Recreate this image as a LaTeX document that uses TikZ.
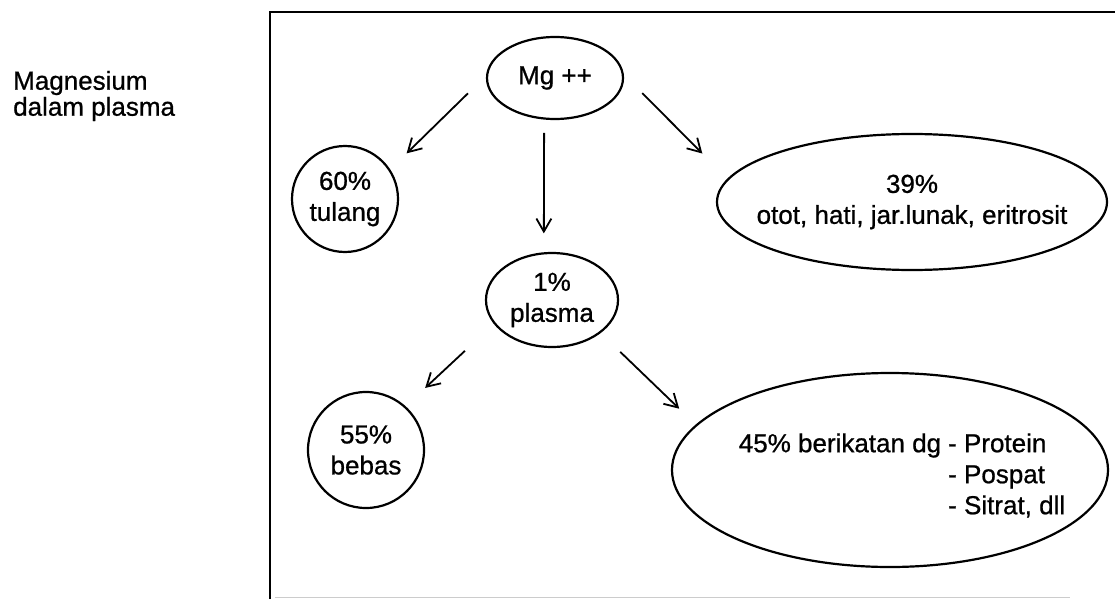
\documentclass[tikz,border=0pt]{standalone}
\usepackage{fontspec}
\setmainfont{Liberation Sans}[FakeBold=0.8]
\usetikzlibrary{arrows.meta,shapes.geometric}
\begin{document}
\begin{tikzpicture}[x=1pt,y=-1pt,
  oval/.style={ellipse, draw, line width=2.2pt, inner sep=0pt, outer sep=0pt},
  ring/.style={circle, draw, line width=2.2pt, inner sep=0pt, outer sep=0pt},
  txt/.style={font=\fontsize{26}{31}\selectfont, align=center, inner sep=0pt},
  arr/.style={line width=1.8pt, -{Straight Barb[length=13pt,width=15pt,line width=1.8pt]}}
]
\useasboundingbox (0,0) rectangle (1115,599);
% frame
\draw[line width=2.6pt] (270,599) -- (270,12) -- (1115,12);
\draw[black!20, line width=1pt] (275,597) -- (1070,597);
% title
\node[txt, align=left, font=\fontsize{26}{26}\selectfont, anchor=west] (title) at (13,96) {Magnesium\\dalam plasma};
% nodes
\node[oval, minimum width=136pt, minimum height=82pt, label={[txt]center:Mg ++}] (mg) at (555,78) {};
\node[ring, minimum size=106pt, label={[txt]center:{60\%\\tulang}}] (tulang) at (345,199) {};
\node[oval, minimum width=390pt, minimum height=136pt, label={[txt]center:{39\%\\otot, hati, jar.lunak, eritrosit}}] (otot) at (912,202) {};
\node[oval, minimum width=132pt, minimum height=94pt, label={[txt]center:{1\%\\plasma}}] (plasma) at (552,300) {};
\node[ring, minimum size=116pt, label={[txt]center:{55\%\\bebas}}] (bebas) at (366,450) {};
\node[oval, minimum width=436pt, minimum height=194pt] (ber) at (890,470) {};
\node[txt, anchor=center] (bertxt) at (902,477) {\begin{tabular}{@{}r@{}l@{}}45\% berikatan dg\kern7pt & - Protein\\ & - Pospat\\ & - Sitrat, dll\end{tabular}};
% arrows
\draw[arr, shorten <=27pt, shorten >=24pt] (mg.177) -- (tulang.33);
\draw[arr, shorten <=14.5pt, shorten >=20pt] (mg.255) -- (plasma.100);
\draw[arr, shorten <=28pt, shorten >=36.5pt] (mg.4) -- (otot.173);
\draw[arr, shorten <=40.6pt, shorten >=27.8pt] (plasma.202) -- (bebas.48);
\draw[arr, shorten <=28.2pt, shorten >=24pt] (plasma.326) -- (ber.167);
\end{tikzpicture}
\end{document}
